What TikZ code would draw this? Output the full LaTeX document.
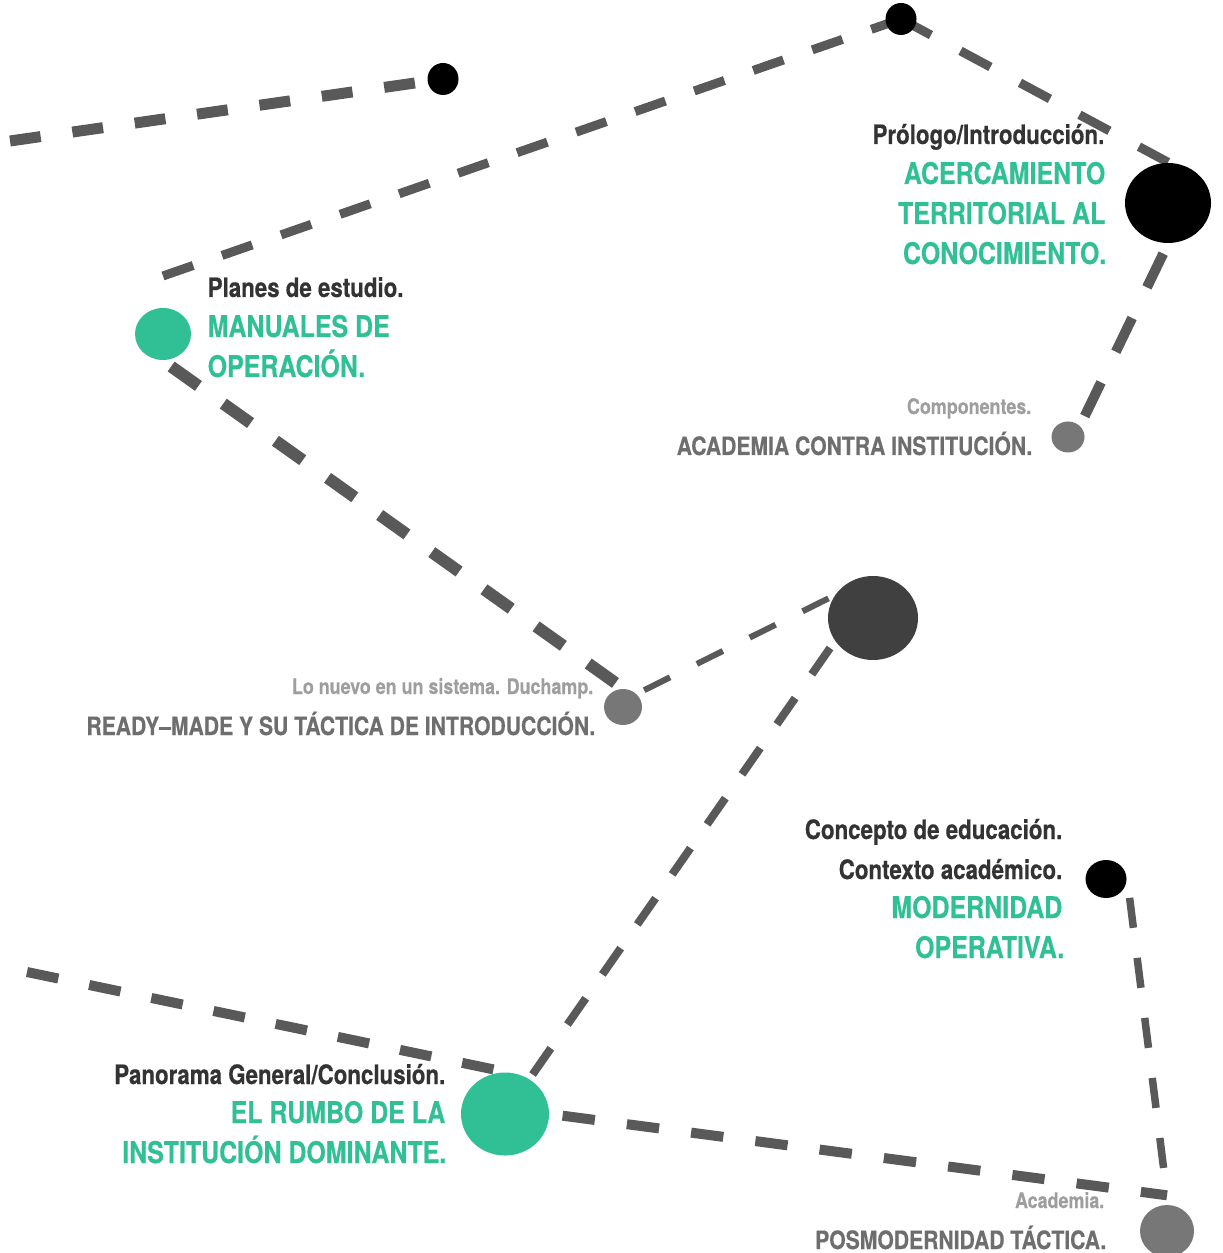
\documentclass[tikz,border=0pt]{standalone}
\usepackage{fontspec}
\setmainfont{TeX Gyre Heros}[FakeStretch=0.835, BoldFeatures={FakeBold=0.4}]
\usetikzlibrary{shapes.geometric,backgrounds}

\definecolor{mint}{HTML}{31BF95}
\definecolor{dashgray}{HTML}{595959}
\definecolor{inkdark}{HTML}{333333}
\definecolor{midgray}{HTML}{6E6E6E}
\definecolor{softgray}{HTML}{9E9E9E}
\definecolor{dotgray}{HTML}{777777}
\definecolor{dotdark}{HTML}{404040}

\tikzset{
  blob/.style={ellipse, inner sep=0pt, draw=none},
  link/.style={draw=dashgray, line cap=butt},
  greentxt/.style={text=mint, inner sep=0pt, font=\fontsize{8.5}{10}\selectfont\bfseries},
  darktxt/.style={text=inkdark, inner sep=0pt, font=\fontsize{7.6}{9}\selectfont\bfseries},
  graytxt/.style={text=midgray, inner sep=0pt, font=\fontsize{7.2}{9}\selectfont\bfseries},
  smalltxt/.style={text=softgray, inner sep=0pt, font=\fontsize{6.1}{7}\selectfont\bfseries}
}

\begin{document}
\begin{tikzpicture}[x=0.1mm, y=-0.1mm]

\useasboundingbox (0,0) rectangle (1222,1253);

% stations
\node[blob, fill=black, minimum width=3.1mm, minimum height=3.2mm] (a) at (443,79) {};
\node[blob, fill=black, minimum width=3.1mm, minimum height=3.2mm] (b) at (901,19) {};
\node[blob, fill=black, minimum width=8.6mm, minimum height=8mm] (c) at (1168,203) {};
\node[blob, fill=dotgray, minimum width=3.3mm, minimum height=3.1mm] (d) at (1068,437) {};
\node[blob, fill=mint, minimum width=5.6mm, minimum height=5.2mm] (e) at (163,334) {};
\node[blob, fill=dotdark, minimum width=9mm, minimum height=8.4mm] (f) at (873,618) {};
\node[blob, fill=dotgray, minimum width=3.8mm, minimum height=3.6mm] (g) at (623,707) {};
\node[blob, fill=mint, minimum width=8.8mm, minimum height=8.3mm] (h) at (505,1114) {};
\node[blob, fill=black, minimum width=4.1mm, minimum height=3.8mm] (i) at (1106,879) {};
\node[blob, fill=dotgray, minimum width=5.4mm, minimum height=5.2mm] (j) at (1167,1231) {};

\coordinate (l1) at (10,141);
\coordinate (l2) at (163,276);
\coordinate (l8) at (27,972);

% dashed routes
\begin{scope}[on background layer]
\draw[link, line width=1.1mm, dash pattern=on 3.1mm off 3.2mm] (l1) -- (a.center);
\draw[link, line width=0.9mm, dash pattern=on 3.2mm off 3.05mm] (l2) -- (b.center);
\draw[link, line width=0.9mm, dash pattern=on 3.4mm off 3.35mm] (b.center) -- (c.north);
\draw[link, line width=1mm, dash pattern=on 3.75mm off 3.4mm, dash phase=6.05mm] (c.south) -- (d.north east);
\draw[link, line width=1.2mm, dash pattern=on 3.35mm off 3.05mm, dash phase=5.4mm] (e.south) -- (g.north);
\draw[link, line width=0.6mm, dash pattern=on 2.9mm off 3mm, dash phase=5.1mm] (g.north east) -- (f.150);
\draw[link, line width=0.8mm, dash pattern=on 3.2mm off 2.9mm, dash phase=2.44mm] ([xshift=-2.2mm]f.center) -- (h.center);
\draw[link, line width=1mm, dash pattern=on 3.2mm off 3.15mm] (l8) -- (h.north);
\draw[link, line width=1mm, dash pattern=on 3.25mm off 3.23mm, dash phase=5.18mm] (h.east) -- ([yshift=0.9mm]j.north);
\draw[link, line width=0.75mm, dash pattern=on 3.02mm off 3.03mm, dash phase=4.15mm] (i.east) -- ([yshift=0.9mm]j.north);
\end{scope}

% labels
\node[darktxt, anchor=base east] (prol) at (1105,144) {Prólogo/Introducción.};
\node[greentxt, anchor=base east] (acer1) at (1106,184) {ACERCAMIENTO};
\node[greentxt, anchor=base east] (acer2) at (1106,224) {TERRITORIAL AL};
\node[greentxt, anchor=base east] (acer3) at (1107,264) {CONOCIMIENTO.};

\node[darktxt, anchor=base west] (plan) at (207,297) {Planes de estudio.};
\node[greentxt, anchor=base west] (manu1) at (207,337) {MANUALES DE};
\node[greentxt, anchor=base west] (manu2) at (207,377) {OPERACIÓN.};

\node[smalltxt, anchor=base east] (comp) at (1032,414) {Componentes.};
\node[graytxt, anchor=base east] (acad) at (1033,455) {ACADEMIA CONTRA INSTITUCIÓN.};

\node[smalltxt, anchor=base east] (nuevo) at (594,694) {Lo nuevo en un sistema. Duchamp.};
\node[graytxt, anchor=base east] (ready) at (596,735) {READY–MADE Y SU TÁCTICA DE INTRODUCCIÓN.};

\node[darktxt, anchor=base east] (conc) at (1063,839) {Concepto de educación.};
\node[darktxt, anchor=base east] (cont) at (1063,879) {Contexto académico.};
\node[greentxt, anchor=base east] (mod1) at (1063,918) {MODERNIDAD};
\node[greentxt, anchor=base east] (mod2) at (1065,958) {OPERATIVA.};

\node[darktxt, anchor=base east] (pano) at (446,1084) {Panorama General/Conclusión.};
\node[greentxt, anchor=base east] (rumbo1) at (446,1123) {EL RUMBO DE LA};
\node[greentxt, anchor=base east] (rumbo2) at (447,1163) {INSTITUCIÓN DOMINANTE.};

\node[smalltxt, anchor=base east] (acadm) at (1105,1208) {Academia.};
\node[graytxt, anchor=base east] (posmo) at (1107,1249) {POSMODERNIDAD TÁCTICA.};

\end{tikzpicture}
\end{document}
